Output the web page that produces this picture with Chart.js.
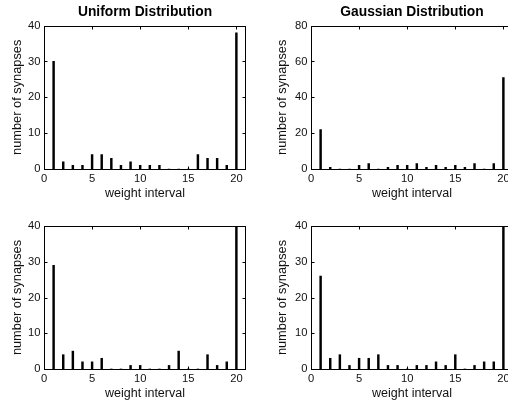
<!DOCTYPE html>
<html>
<head>
<meta charset="utf-8">
<script src="https://cdn.jsdelivr.net/npm/chart.js@4/dist/chart.umd.min.js"></script>
<style>
  html, body { margin: 0; padding: 0; background: #fff; overflow: hidden; width: 508px; height: 405px; }
  canvas { position: absolute; }
</style>
</head>
<body>
<canvas id="c1" width="254" height="200" style="left:0;top:0"></canvas>
<canvas id="c2" width="262" height="200" style="left:254px;top:0"></canvas>
<canvas id="c3" width="254" height="200" style="left:0;top:200px"></canvas>
<canvas id="c4" width="262" height="200" style="left:254px;top:200px"></canvas>
<script>
// ---- data ----
const weightIntervals = [1,2,3,4,5,6,7,8,9,10,11,12,13,14,15,16,17,18,19,20];
const uniformTop   = [30,2,1,1,4,4,3,1,2,1,1,1,0,0,0,4,3,3,1,38];
const gaussianTop  = [22,1,0,0,2,3,0,1,2,2,3,1,2,1,2,1,3,0,3,51];
const uniformBottom  = [29,4,5,2,2,3,0,0,1,1,0,0,1,5,0,0,4,1,2,40];
const gaussianBottom = [26,3,4,1,3,3,4,1,1,0,1,1,2,1,4,0,1,2,2,40];
const xTickStep = 5;
const titles = ['Uniform Distribution', 'Gaussian Distribution'];
const xLabel = 'weight interval';
const yLabel = 'number of synapses';

const FONT = 'Arial, "Liberation Sans", sans-serif';

const boxTicks = {
  id: 'boxTicks',
  afterDatasetsDraw(chart) {
    const {ctx, chartArea: a, scales: {x, y}} = chart;
    const L = Math.round(a.left) + 0.5, R = Math.round(a.right) - 0.5;
    const T = Math.round(a.top) + 0.5, B = Math.round(a.bottom) + 0.5;
    ctx.save();
    ctx.strokeStyle = '#000';
    ctx.lineWidth = 1;
    ctx.beginPath();
    const tl = 3;
    x.ticks.forEach(t => {
      const px = Math.round(x.getPixelForValue(t.value)) + 0.5;
      ctx.moveTo(px, B); ctx.lineTo(px, B - tl);
      ctx.moveTo(px, T); ctx.lineTo(px, T + tl);
    });
    y.ticks.forEach(t => {
      const py = Math.round(y.getPixelForValue(t.value)) + 0.5;
      ctx.moveTo(L, py); ctx.lineTo(L + tl, py);
      ctx.moveTo(R, py); ctx.lineTo(R - tl, py);
    });
    ctx.stroke();
    ctx.strokeRect(L, T, R - L, B - T);
    ctx.restore();
  }
};

function makeChart(id, values, opts) {
  const cfg = {
    type: 'bar',
    data: {
      datasets: [{
        data: weightIntervals.map((w, i) => ({x: w, y: values[i]})),
        backgroundColor: '#000',
        borderWidth: 0,
        barThickness: 1.8
      }]
    },
    options: {
      responsive: false,
      animation: false,
      events: [],
      layout: { padding: { left: 0, right: opts.padRight, top: opts.padTop, bottom: 0 } },
      plugins: {
        legend: { display: false },
        tooltip: { enabled: false },
        title: {
          display: !!opts.title,
          text: opts.title || '',
          fullSize: false,
          color: '#000',
          font: { family: FONT, size: 13.8, weight: 'bold', lineHeight: 1.2 },
          padding: { top: 3.5, bottom: 5.5 }
        }
      },
      scales: {
        x: {
          type: 'linear',
          min: 0, max: 21,
          offset: false,
          grid: { display: false, drawTicks: false },
          border: { display: false },
          ticks: {
            stepSize: xTickStep, includeBounds: false, maxRotation: 0,
            color: '#111', padding: 3.5,
            font: { family: FONT, size: 11.2 }
          },
          title: {
            display: true, text: xLabel, color: '#111',
            font: { family: FONT, size: 12.5, lineHeight: 1 },
            padding: { top: 0, bottom: 0 }
          },
          afterFit(s) { s.height = opts.xHeight; }
        },
        y: {
          min: 0, max: opts.yMax,
          grid: { display: false, drawTicks: false },
          border: { display: false },
          ticks: {
            stepSize: opts.yStep, color: '#111', padding: 3.5,
            font: { family: FONT, size: 11.2 }
          },
          title: {
            display: true, text: yLabel, color: '#111',
            font: { family: FONT, size: 12.8, lineHeight: 1 },
            padding: { top: opts.yTitlePad, bottom: 0 }
          },
          afterFit(s) { s.width = opts.yWidth; }
        }
      }
    },
    plugins: [boxTicks]
  };
  return new Chart(document.getElementById(id), cfg);
}

makeChart('c1', uniformTop,  { title: titles[0], padRight: 8, padTop: 0, xHeight: 31, yWidth: 44, yTitlePad: 10.6, yMax: 40, yStep: 10 });
makeChart('c2', gaussianTop, { title: titles[1], padRight: 3, padTop: 0, xHeight: 31, yWidth: 57, yTitlePad: 22.4, yMax: 80, yStep: 20 });
makeChart('c3', uniformBottom,  { padRight: 8, padTop: 26, xHeight: 31, yWidth: 44, yTitlePad: 10.6, yMax: 40, yStep: 10 });
makeChart('c4', gaussianBottom, { padRight: 3, padTop: 26, xHeight: 31, yWidth: 57, yTitlePad: 22.4, yMax: 40, yStep: 10 });
</script>
</body>
</html>
